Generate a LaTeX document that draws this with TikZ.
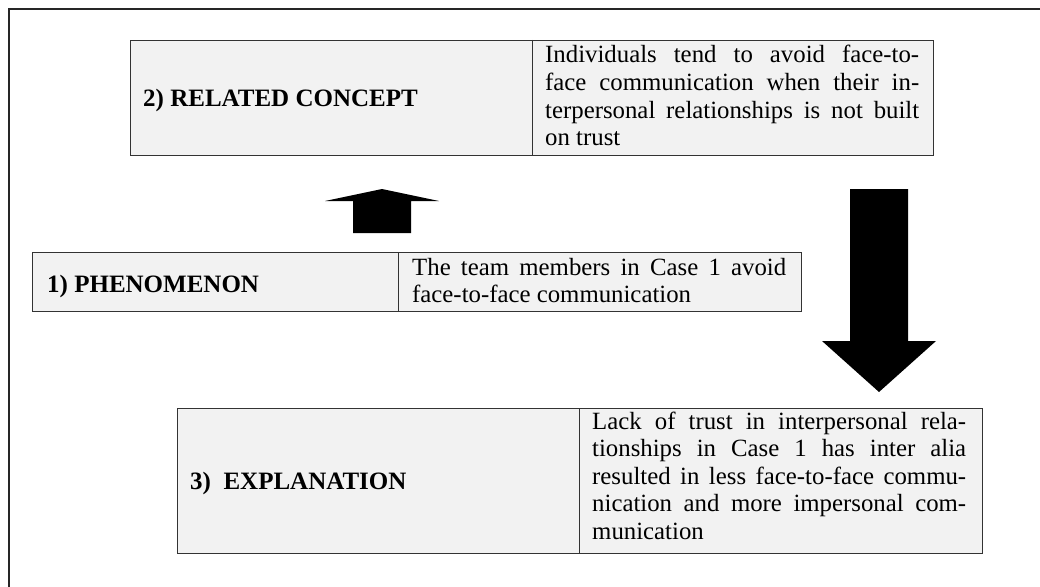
\documentclass[tikz,border=0pt]{standalone}
\usepackage{fontspec}
\setmainfont{Liberation Serif}
\definecolor{boxgray}{HTML}{F2F2F2}
\definecolor{edgegray}{HTML}{333333}
% one fully justified line of a text cell
\newcommand{\fullline}[1]{\makebox[374pt][s]{#1}\\}
\begin{document}
\begin{tikzpicture}[x=1pt,y=-1pt,
  cell/.style={draw=edgegray, line width=1.1pt, fill=boxgray, inner sep=0pt, anchor=north west},
  divider/.style={draw=edgegray, line width=1pt},
  lab/.style={anchor=base west, inner sep=0pt, font=\fontsize{25}{30}\selectfont\bfseries},
  body/.style={anchor=base west, inner sep=0pt, font=\fontsize{24.8}{27.5}\selectfont},
  blockarrow/.style={fill=black, draw=none}]
\useasboundingbox (0,0) rectangle (1040,586);

% outer frame (open towards the right and the bottom)
\draw[black!85, line width=1.5pt] (9,590) -- (9,9) -- (1045,9);

% 2) related concept
\node[cell, minimum width=803pt, minimum height=115pt] (c2) at (130,40) {};
\draw[divider] ([xshift=402pt]c2.north west) -- ([xshift=402pt]c2.south west);
\node[lab] (l2) at (143,106) {2) RELATED CONCEPT};
\node[body] (t2) at (545,63) {\parbox[t]{374pt}{%
  \fullline{Individuals tend to avoid face-to-}%
  \fullline{face communication when their in-}%
  \fullline{terpersonal relationships is not built}%
  on trust}};

% 1) phenomenon
\node[cell, minimum width=769pt, minimum height=59pt] (c1) at (32,252) {};
\draw[divider] ([xshift=366pt]c1.north west) -- ([xshift=366pt]c1.south west);
\node[lab] (l1) at (47,292) {1) PHENOMENON};
\node[body] (t1) at (412,275) {\parbox[t]{374pt}{%
  \fullline{The team members in Case 1 avoid}%
  face-to-face communication}};

% 3) explanation
\node[cell, minimum width=805pt, minimum height=145pt] (c3) at (177,408) {};
\draw[divider] ([xshift=402pt]c3.north west) -- ([xshift=402pt]c3.south west);
\node[lab] (l3) at (190,489) {3)\ \ EXPLANATION};
\node[body] (t3) at (592,429) {\parbox[t]{374pt}{%
  \fullline{Lack of trust in interpersonal rela-}%
  \fullline{tionships in Case 1 has inter alia}%
  \fullline{resulted in less face-to-face commu-}%
  \fullline{nication and more impersonal com-}%
  munication}};

% block arrows: phenomenon up to concept, concept down to explanation
\fill[blockarrow] (353,233) -- (411,233) -- (411,201) -- (439,201) -- (382,189)
  -- (325,201) -- (353,201) -- cycle;
\fill[blockarrow] (850,189) -- (908,189) -- (908,341) -- (936,341) -- (879,392)
  -- (822,341) -- (850,341) -- cycle;
\end{tikzpicture}
\end{document}
